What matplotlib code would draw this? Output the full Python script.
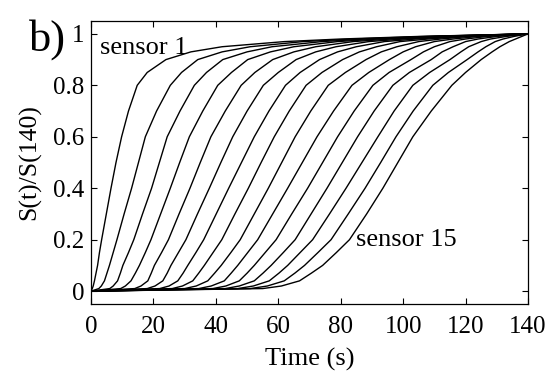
import numpy as np
import matplotlib
matplotlib.use("Agg")
import matplotlib.pyplot as plt

plt.rcParams['font.family'] = ['Liberation Serif', 'DejaVu Serif']

# normalised response levels S(t)/S(140)
levels = [0.0, 0.01, 0.02, 0.04, 0.07, 0.1, 0.15, 0.2, 0.3, 0.4, 0.5, 0.6, 0.7, 0.8,
          0.85, 0.9, 0.93, 0.95, 0.97, 0.98, 0.99, 1.0]

# time (s) at which each sensor (1..15) reaches the level above
t_000 = [0] * 15
t_001 = [0.4, 2.5, 6.0, 9.5, 14.0, 18.0, 22.0, 26.0, 30.0, 34.5, 39.0, 43.0, 47.0, 51.0, 55.0]
t_002 = [0.7, 3.3, 7.1, 11.0, 16.0, 20.5, 25.0, 29.3, 33.7, 38.5, 43.2, 47.5, 52.0, 56.5, 61.0]
t_004 = [1.1, 4.3, 8.5, 12.8, 18.2, 23.0, 27.8, 32.6, 37.4, 42.7, 47.5, 52.3, 57.1, 61.9, 66.8]
t_007 = [1.6, 5.1, 9.4, 14.2, 19.3, 24.4, 29.5, 34.5, 39.6, 44.9, 50.0, 55.1, 60.2, 65.3, 70.6]
t_010 = [2.1, 5.9, 10.2, 15.5, 20.3, 25.6, 31.0, 36.3, 41.7, 47.0, 52.3, 57.7, 63.0, 68.4, 74.2]
t_015 = [2.7, 7.1, 12.0, 17.4, 22.6, 28.0, 33.6, 39.1, 44.8, 50.2, 55.8, 61.6, 67.0, 72.7, 78.6]
t_020 = [3.4, 8.3, 13.7, 19.2, 24.8, 30.4, 36.1, 41.9, 47.8, 53.4, 59.3, 65.4, 71.0, 76.9, 82.8]
t_030 = [4.9, 10.6, 16.5, 22.3, 28.2, 34.1, 40.1, 46.1, 52.3, 58.2, 64.3, 70.5, 76.4, 82.4, 88.3]
t_040 = [6.4, 13.0, 19.4, 25.4, 31.7, 37.9, 44.1, 50.4, 56.8, 63.0, 69.4, 75.6, 81.7, 87.8, 93.5]
t_050 = [8.0, 15.2, 21.9, 28.4, 35.0, 41.6, 48.2, 54.5, 61.1, 67.7, 74.2, 80.5, 86.8, 92.8, 98.3]
t_060 = [9.8, 17.4, 24.4, 31.5, 38.4, 45.4, 52.3, 58.7, 65.4, 72.4, 79.0, 85.4, 91.9, 97.7, 103.1]
t_070 = [12.0, 21.0, 28.5, 35.8, 43.0, 50.0, 57.0, 63.5, 70.4, 77.7, 84.3, 90.7, 97.1, 103.2, 109.0]
t_080 = [14.8, 25.4, 33.1, 40.6, 48.1, 55.2, 62.3, 68.9, 76.0, 83.6, 90.3, 96.7, 103.1, 109.5, 115.6]
t_085 = [18.0, 29.0, 37.0, 45.0, 52.5, 60.0, 67.0, 74.0, 81.5, 89.0, 95.5, 102.0, 108.5, 114.5, 120.0]
t_090 = [24.0, 34.2, 42.2, 50.2, 58.2, 65.7, 73.2, 80.6, 88.1, 95.6, 102.5, 109.0, 115.0, 120.5, 125.0]
t_093 = [32.0, 42.0, 50.0, 57.5, 65.0, 72.0, 79.0, 86.0, 93.0, 100.0, 106.5, 112.5, 118.5, 124.0, 128.5]
t_095 = [42.0, 51.0, 58.0, 65.0, 72.0, 78.5, 85.0, 91.5, 98.0, 104.0, 110.0, 116.0, 121.0, 126.5, 131.0]
t_097 = [62.0, 68.0, 74.0, 79.0, 84.0, 89.0, 94.0, 99.0, 105.0, 110.0, 115.0, 120.0, 125.0, 129.5, 134.0]
t_098 = [80.0, 84.0, 88.0, 92.0, 96.0, 100.0, 104.0, 108.0, 112.0, 116.0, 120.0, 124.0, 128.0, 132.0, 136.0]
t_099 = [105.0, 107.0, 109.0, 111.0, 113.0, 115.0, 117.0, 119.0, 121.0, 124.0, 127.0, 130.0, 133.0, 135.5, 138.0]
t_100 = [140] * 15

times = np.array([t_000, t_001, t_002, t_004, t_007, t_010, t_015, t_020, t_030, t_040, t_050,
                  t_060, t_070, t_080, t_085, t_090, t_093, t_095, t_097, t_098, t_099, t_100])

fig = plt.figure(figsize=(5.53, 3.77), dpi=100)
ax = fig.add_axes([0.1646, 0.1936, 0.7902, 0.7507])

for i in range(times.shape[1]):
    ax.plot(times[:, i], levels, color='black', lw=1.0)

ax.set_xlim(0, 140)
ax.set_ylim(-0.05, 1.05)
ax.set_xticks(np.arange(0, 141, 20))
ax.set_yticks([0, 0.2, 0.4, 0.6, 0.8, 1])
ax.set_yticklabels(['0', '0.2', '0.4', '0.6', '0.8', '1'])
ax.tick_params(direction='in', top=True, right=True, labelsize=18, length=4, width=0.8)
ax.tick_params(axis='x', pad=8.5)
ax.tick_params(axis='y', pad=5)
for s in ax.spines.values():
    s.set_linewidth(0.9)

ax.set_xlabel('Time (s)', fontsize=19, labelpad=7)
ax.set_ylabel('S(t)/S(140)', fontsize=18.5, labelpad=8)

ax.text(2.9, 0.945, 'sensor 1', fontsize=19, va='center', ha='left')
ax.text(85, 0.2, 'sensor 15', fontsize=19, va='center', ha='left')
fig.text(0.052, 0.95, 'b)', fontsize=32, va='top', ha='left')

fig.savefig('out.png', dpi=100)
